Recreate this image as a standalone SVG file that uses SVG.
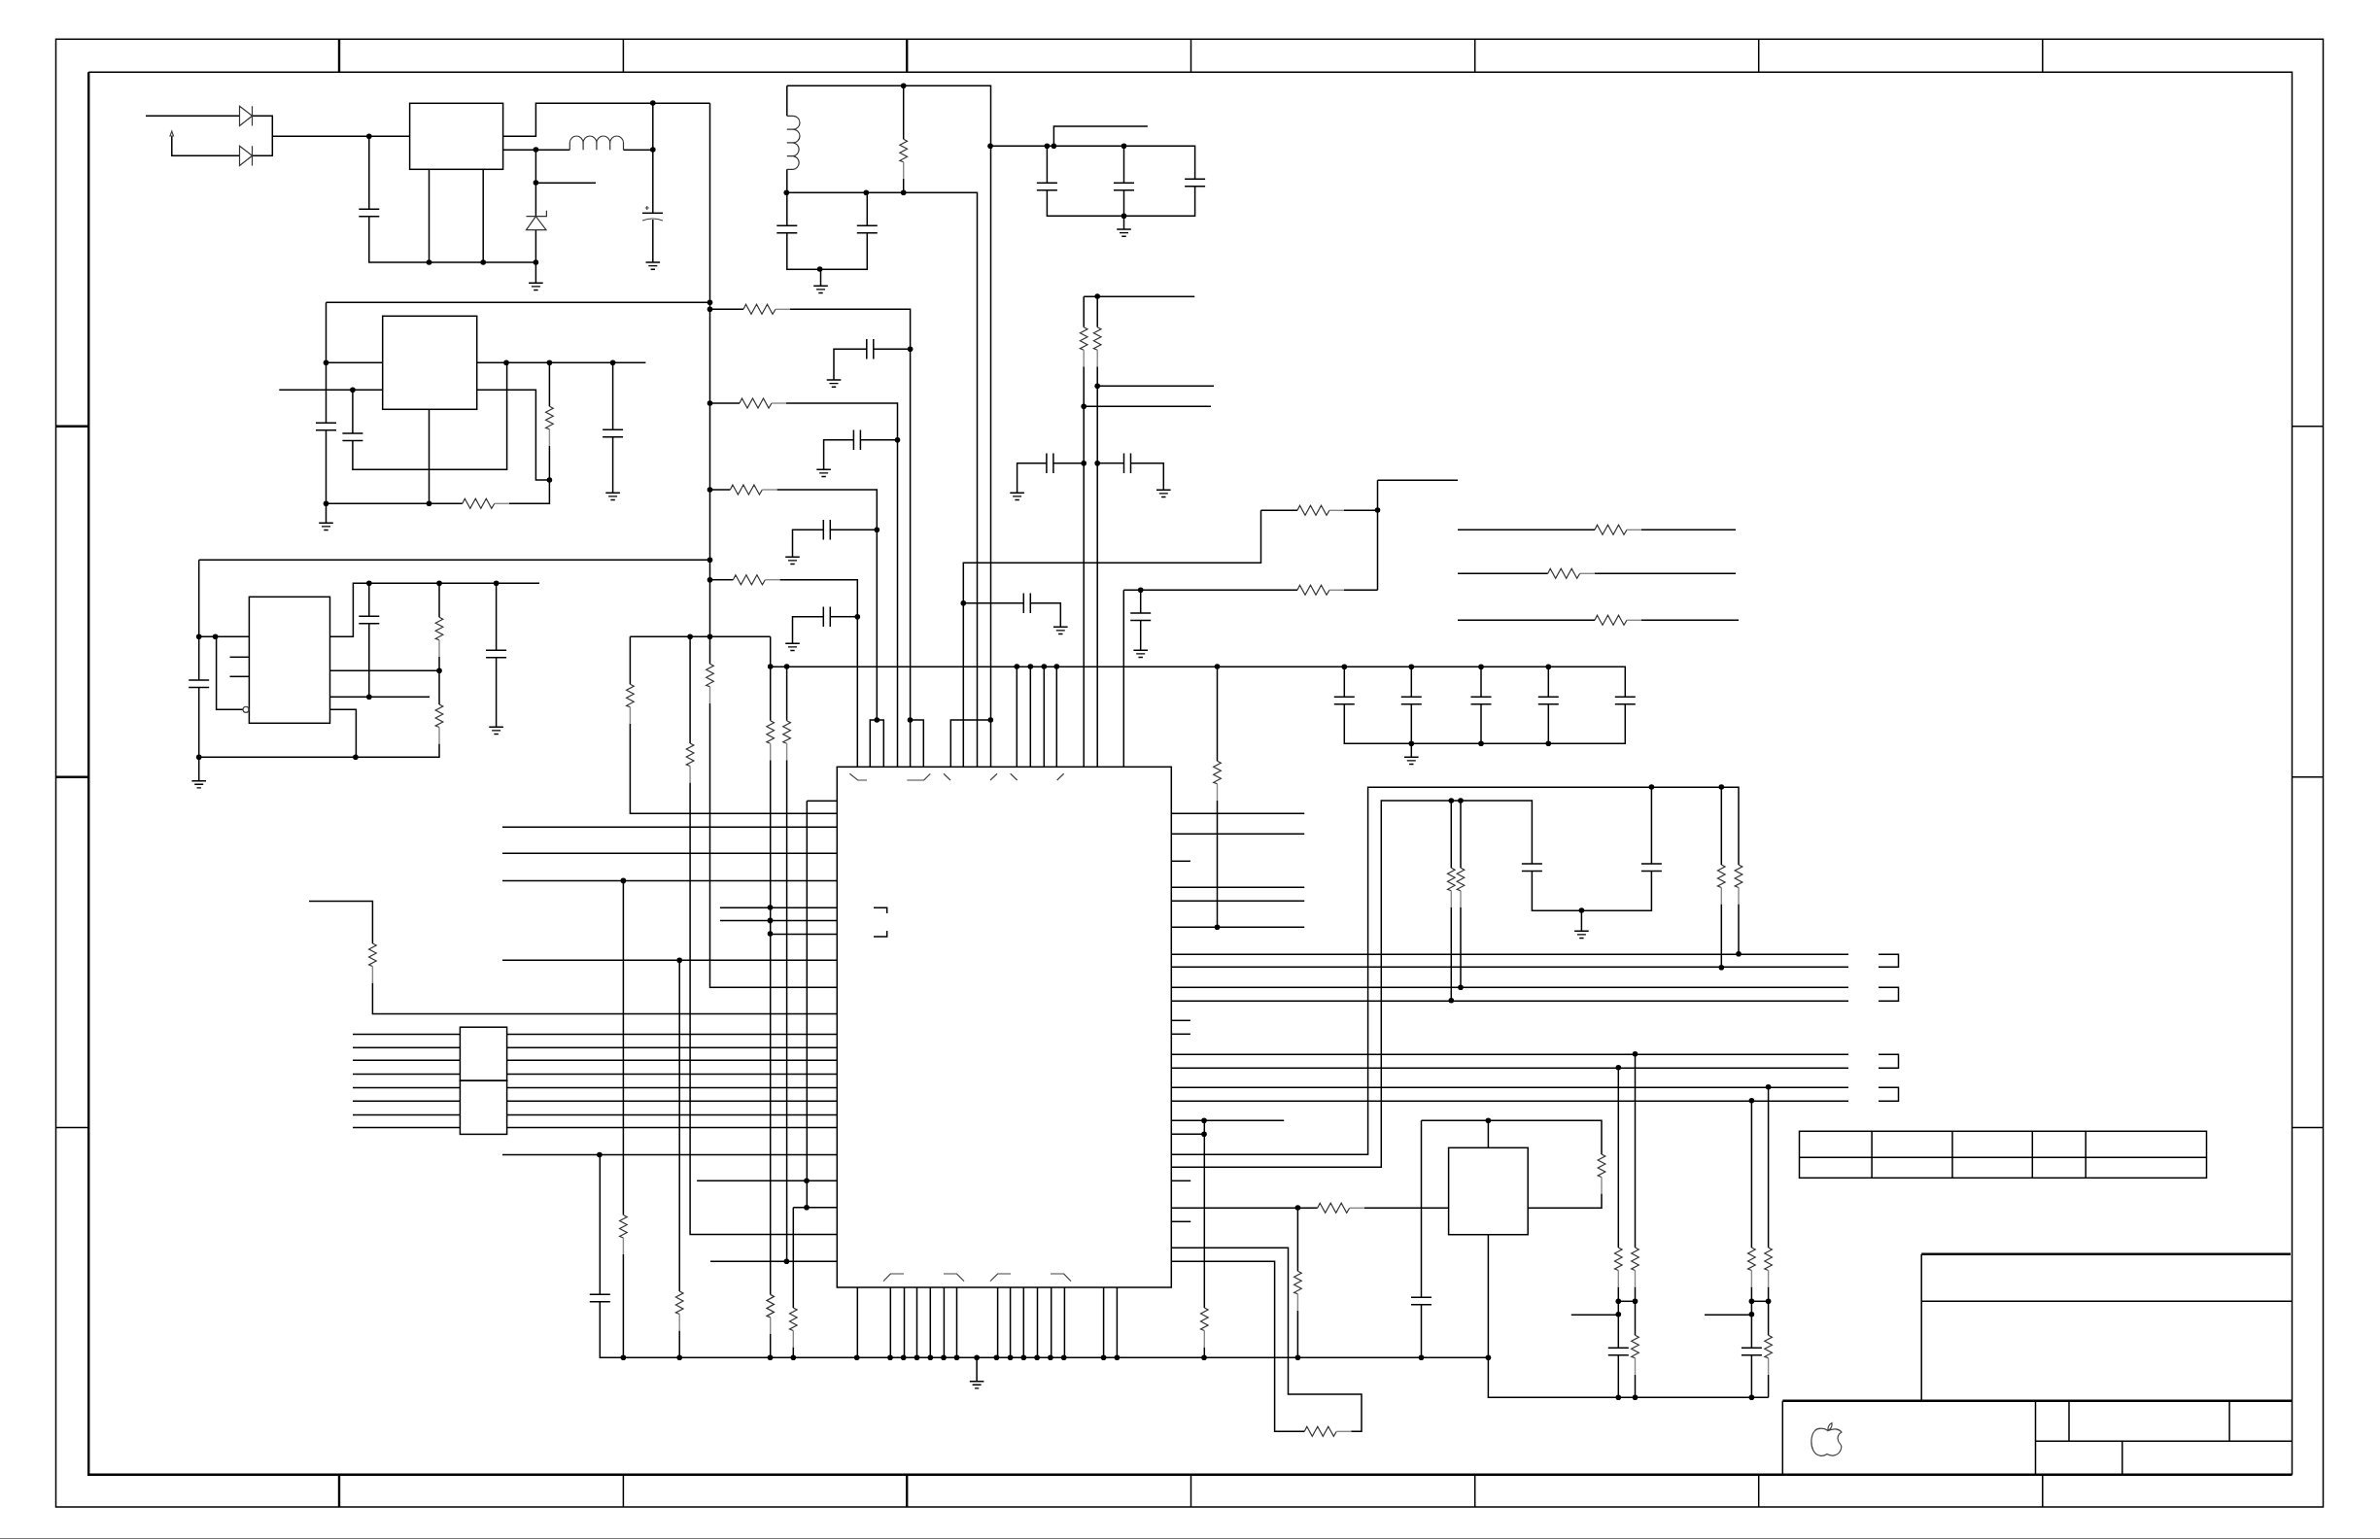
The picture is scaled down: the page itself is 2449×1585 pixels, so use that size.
<svg xmlns="http://www.w3.org/2000/svg" width="2449" height="1585" viewBox="0 0 2449 1585">
<style>
path,rect,circle,line{fill:none}
.w path{stroke:#000;stroke-width:1.5;stroke-linejoin:miter}
.b{stroke:#000;stroke-width:1.5;fill:#fff}
.n{stroke:#000;stroke-width:1.5}
.k{stroke:#000;stroke-width:2.4}
.z{stroke:#333;stroke-width:1.2}
.t{stroke:#888;stroke-width:1.4}
.p{stroke:#000;stroke-width:1.5}
.m{stroke:#444;stroke-width:1.2}
.g{stroke:#000;stroke-width:1.4}
</style>
<defs>
<g id="rh"><path class="z" d="M0,0L2.5,-5 8,5 13.5,-5 19,5 24.5,-5 30,5 33,0"/><path class="t" d="M33,0H48"/></g>
<g id="rv"><path class="z" d="M0,0L3.8,2 -3.8,6 3.8,10 -3.8,14 3.8,18 -3.8,22 0,23.5"/><path class="t" d="M0,23.5V40.5"/></g>
<path id="cv" class="p" d="M-10.5,0H10.5M-10.5,7.4H10.5"/>
<path id="ch" class="p" d="M0,-10.3V10.3M7,-10.3V10.3"/>
<path id="gnd" class="g" d="M-7.3,0H7.3M-4.5,3.6H4.5M-2.2,7.2H2.2"/>
<circle id="d" r="2.8" style="fill:#000"/>
</defs>
<g id="frame">
<rect class="n" x="57.5" y="40.3" width="2333" height="1510.7"/>
<path class="n" d="M91.2,74.3H2358.5V1517.7"/>
<path class="k" d="M91.2,74.3V1517.7H2358.5"/>
<path class="k" d="M349,40.3V74.3M933.2,40.3V74.3M349,1517.7V1551M933.2,1517.7V1551M57.5,438.7H91.2M57.5,799.7H91.2"/>
<path class="n" d="M641.4,40.3V74.3M1225.5,40.3V74.3M1517.7,40.3V74.3M1809.7,40.3V74.3M2101.8,40.3V74.3M641.4,1517.7V1551M1225.5,1517.7V1551M1517.7,1517.7V1551M1809.7,1517.7V1551M2101.8,1517.7V1551M57.5,1160.5H91.2M2358.5,438.7H2390.5M2358.5,799.7H2390.5M2358.5,1160.5H2390.5"/>
<path d="M0,1583.5H2449" stroke="#777" stroke-width="1"/>
</g>
<g id="connectors" class="w">
<path d="M150,119.3H246.5"/><path d="M259.5,119.3H280.3V160.3H259.5"/><path d="M176.8,140V160.3H246.5"/><path d="M280.3,140.3H421.6"/>
<path d="M379.8,140.3V215.3"/><path d="M379.8,222.7V270H551.4"/><path d="M441.5,174.3V270"/><path d="M497.2,174.3V270"/>
<path d="M517.6,140.3H551.4V106.3H730.5"/><path d="M517.6,154.3H586.3"/><path d="M641.5,154.3H671.8"/><path d="M671.8,106.3V219.3"/><path d="M671.8,226V270"/>
<path d="M551.4,154.3V222.7"/><path d="M551.4,188.3H613"/><path d="M551.4,236.7V291.3"/>
<path d="M730.5,106.3V683.3"/><path d="M730.5,723.8V1016.2H861.3"/>
<path d="M335.5,311.3H730.5"/><path d="M335.5,311.3V435.3"/><path d="M335.5,442.7V538.3"/><path d="M335.5,373.3H393.7"/><path d="M287.3,401.3H393.7"/>
<path d="M362.9,401.3V446"/><path d="M362.9,453.4V483.3H521.6V373.3"/><path d="M490.7,373.3H664.4"/><path d="M630.6,373.3V442.3"/><path d="M630.6,449.7V507.3"/>
<path d="M565.4,373.3V418.3"/><path d="M565.4,458.8V518.3H523.8"/><path d="M335.5,518.3H475.8"/><path d="M490.7,401.3H551.4V494H565.4"/><path d="M441.5,421.3V518.3"/>
<path d="M204.7,576.3H730.5"/><path d="M204.7,576.3V700"/><path d="M204.7,707.4V803.7"/><path d="M204.7,655.3H256.4"/><path d="M236.5,676.3H256.4"/><path d="M236.5,696.3H256.4"/><path d="M222.6,655.3V730.3H250"/>
<path d="M339.5,655.3H363.4V600.3H555"/><path d="M379.8,600.3V634.3"/><path d="M379.8,641.7V717.3"/><path d="M339.5,717.3H442"/><path d="M339.5,690.3H452"/>
<path d="M452,600.3V635.3"/><path d="M452,675.8V725"/><path d="M452,765.5V779.3H204.7"/><path d="M339.5,730.3H366.4V779.3"/><path d="M510.6,600.3V669.3"/><path d="M510.6,676.7V748.3"/>
<path d="M730.5,318.3H765"/><path d="M813,318.3H936.6V789.3"/><path d="M858,391V359.3H891.8"/><path d="M898.8,359.3H936.6"/>
<path d="M730.5,415H761"/><path d="M809,415H923.5V789.3"/><path d="M847.6,483.3V452.7H878.4"/><path d="M885.4,452.7H923.5"/>
<path d="M730.5,504H751.4"/><path d="M799.4,504H902.3V741"/><path d="M895.3,789.3V741H909.3V789.3"/><path d="M815.5,573.3V545.3H847.3"/><path d="M854.3,545.3H902.3"/>
<path d="M730.5,596.7H754.4"/><path d="M802.4,596.7H882.3V789.3"/><path d="M815.5,662.3V634.7H847.3"/><path d="M854.3,634.7H882.3"/>
<path d="M809.8,88.3V119.3"/><path d="M809.8,174.3V198.3"/><path d="M809.8,88.3H1019.5V789.3"/><path d="M929.7,88.3V143.3"/><path d="M929.7,183.8V198.3"/><path d="M809.8,198.3H1005.5V789.3"/>
<path d="M809.8,198.3V232.3"/><path d="M809.8,239.7V277.3H892.3V239.7"/><path d="M892.3,198.3V232.3"/><path d="M844.5,277.3V294.3"/>
<path d="M1019.5,150.3H1229.6V184.3"/><path d="M1229.6,191.7V222.3H1077.4V195.7"/><path d="M1077.4,150.3V188.3"/><path d="M1156.5,150.3V188.3"/><path d="M1156.5,195.7V236"/><path d="M1084.4,150.3V130H1180.9"/>
<path d="M1115.2,305.3H1229.2"/><path d="M1115.2,305.3V336.7"/><path d="M1115.2,377.2V789.3"/><path d="M1129.2,305.3V336.7"/><path d="M1129.2,377.2V789.3"/><path d="M1129.2,397.3H1249"/><path d="M1115.2,418.3H1246"/>
<path d="M1046.6,507.3V476.7H1076.9"/><path d="M1083.9,476.7H1115.2"/><path d="M1129.2,476.7H1156.5"/><path d="M1163.5,476.7H1197.3V504.3"/>
<path d="M1417.5,494.3H1500"/><path d="M1417.5,494.3V607.3"/><path d="M1383,525.3H1417.5"/><path d="M1383,607.3H1417.5"/><path d="M1297.5,525.3H1335"/><path d="M1297.5,525.3V579.3H991.3V789.3"/>
<path d="M1156.3,607.3H1335"/><path d="M1156.3,607.3V789.3"/><path d="M991.3,620.7H1053.3"/><path d="M1060.3,620.7H1091.3V645.3"/><path d="M1173.7,607.3V631"/><path d="M1173.7,638.4V669.3"/>
<path d="M936.5,741H950.3V789.3"/><path d="M978.3,789.3V741H1019.5"/><path d="M1046.3,686V789.3"/><path d="M1060.3,686V789.3"/><path d="M1074.3,686V789.3"/><path d="M1087.3,686V789.3"/>
<path d="M792.7,686.3H1672.3V717.3"/><path d="M1672.3,724.7V765.3H1383.3V724.7"/><path d="M1383.3,686.3V717.3"/><path d="M1452.3,686.3V717.3"/><path d="M1452.3,724.7V779.3"/><path d="M1524,686.3V717.3"/><path d="M1524,724.7V765.3"/><path d="M1593.3,686.3V717.3"/><path d="M1593.3,724.7V765.3"/>
<path d="M1252.5,686.3V783.3"/><path d="M1252.5,823.8V954.3"/>
<path d="M1500,545.3H1641"/><path d="M1689,545.3H1786"/><path d="M1500,590.3H1592.7"/><path d="M1640.7,590.3H1786"/><path d="M1500,638.3H1641"/><path d="M1689,638.3H1789"/>
<path d="M648.4,655.3H792.7"/><path d="M648.4,655.3V704.3"/><path d="M648.4,744.8V837.3H861.3"/><path d="M710.1,655.3V765"/><path d="M710.1,805.5V1270.4H861.3"/>
<path d="M792.7,655.3V741.7"/><path d="M792.7,782.2V1332.4"/><path d="M792.7,1372.9V1397.3"/><path d="M809.6,686.3V741.7"/><path d="M809.6,782.2V1298.3"/>
<path d="M830.3,824.3H861.3"/><path d="M830.3,824.3V1242.8"/><path d="M517,851.3H861.3"/><path d="M517,878.3H861.3"/><path d="M517,906.4H861.3"/><path d="M641.4,906.4V1250.5"/><path d="M641.4,1291V1397.3"/>
<path d="M517,988.3H861.3"/><path d="M699.2,988.3V1329"/><path d="M699.2,1369.5V1397.3"/><path d="M740.9,934.3H861.3"/><path d="M740.9,947.4H861.3"/><path d="M792.7,961.5H861.3"/>
<path d="M318,927.5H383.4V971"/><path d="M383.4,1011.5V1043.4H861.3"/>
<path d="M363,1064.5H473.4M521.6,1064.5H861.3"/><path d="M363,1078.2H473.4M521.6,1078.2H861.3"/><path d="M363,1091.2H473.4M521.6,1091.2H861.3"/><path d="M363,1105.4H473.4M521.6,1105.4H861.3"/><path d="M363,1119.6H473.4M521.6,1119.6H861.3"/><path d="M363,1133.3H473.4M521.6,1133.3H861.3"/><path d="M363,1147.5H473.4M521.6,1147.5H861.3"/><path d="M363,1160.5H473.4M521.6,1160.5H861.3"/>
<path d="M517,1188.5H861.3"/><path d="M617.3,1188.5V1332.3"/><path d="M617.3,1339.7V1397.3H1531.4"/><path d="M717.1,1215.2H861.3"/><path d="M816.3,1242.8H861.3"/><path d="M816.3,1242.8V1346"/><path d="M816.3,1386.5V1397.3"/><path d="M731,1298.3H861.3"/>
<path d="M882.3,1325V1397.3"/><path d="M916.3,1325V1397.3"/><path d="M930.5,1325V1397.3"/><path d="M943.5,1325V1397.3"/><path d="M957.3,1325V1397.3"/><path d="M971.4,1325V1397.3"/><path d="M984.5,1325V1397.3"/><path d="M1026.6,1325V1397.3"/><path d="M1039.6,1325V1397.3"/><path d="M1053.3,1325V1397.3"/><path d="M1067.5,1325V1397.3"/><path d="M1081.7,1325V1397.3"/><path d="M1095.4,1325V1397.3"/><path d="M1135.6,1325V1397.3"/><path d="M1149.4,1325V1397.3"/>
<path d="M1005.1,1397.3V1421.7"/>
<path d="M1205.3,837.3H1342.2"/><path d="M1205.3,858.3H1342.2"/><path d="M1205.3,886.3H1224.9"/><path d="M1205.3,913.3H1342.2"/><path d="M1205.3,927.3H1342.2"/><path d="M1205.3,954.3H1342.2"/>
<path d="M1205.3,982.3H1902"/><path d="M1205.3,995.3H1902"/><path d="M1205.3,1016.3H1902"/><path d="M1205.3,1030.3H1902"/><path d="M1205.3,1050.3H1224.9"/><path d="M1205.3,1064.3H1224.9"/><path d="M1205.3,1085.3H1902"/><path d="M1205.3,1099.3H1902"/><path d="M1205.3,1119.3H1902"/><path d="M1205.3,1133.3H1902"/>
<path d="M1933,982.3H1953.5V995.3H1933"/><path d="M1933,1016.3H1953.5V1030.3H1933"/><path d="M1933,1085.3H1953.5V1099.3H1933"/><path d="M1933,1119.3H1953.5V1133.3H1933"/>
<path d="M1205.3,1153.3H1321.2"/><path d="M1205.3,1167.3H1239.3"/><path d="M1239.3,1153.3V1346"/><path d="M1239.3,1386.5V1397.3"/>
<path d="M1205.3,1188.3H1407.6V810.3H1789V890"/><path d="M1205.3,1201.3H1421.3V824H1576.4V889"/><path d="M1205.3,1215.3H1225.2"/><path d="M1205.3,1257.3H1225.2"/>
<path d="M1205.3,1243.3H1355.7"/><path d="M1403.7,1243.3H1490.6"/><path d="M1335.4,1243.3V1308.3"/><path d="M1335.4,1348.8V1397.3"/>
<path d="M1205.3,1284.3H1325.5V1435H1401V1473.3H1390.3"/><path d="M1205.3,1298.3H1311.6V1473.3H1342.3"/>
<path d="M1493.3,824V893.3"/><path d="M1493.3,933.8V1030.3"/><path d="M1503,824V893.3"/><path d="M1503,933.8V1016.3"/>
<path d="M1576.4,896.4V937.3H1699.4V896.4"/><path d="M1699.4,810.3V889"/><path d="M1627.4,937.3V958.3"/><path d="M1771.3,810.3V890"/><path d="M1771.3,930.5V995.7"/><path d="M1789,930.5V981.7"/>
<path d="M1531.4,1153.3V1181.3"/><path d="M1462.5,1153.3H1648V1188"/><path d="M1648,1228.5V1243.3H1572.2"/><path d="M1462.5,1153.3V1335.3"/><path d="M1462.5,1342.7V1397.3"/><path d="M1531.4,1270.7V1438.3H1819.6"/>
<path d="M1665.3,1098.7V1284"/><path d="M1665.3,1324.5V1387.3"/><path d="M1665.3,1394.7V1438.3"/><path d="M1682.5,1084.7V1284"/><path d="M1682.5,1324.5V1374.3"/><path d="M1682.5,1414.8V1438.3"/><path d="M1665.3,1339.3H1682.5"/><path d="M1616.8,1353.3H1665.3"/>
<path d="M1802.4,1132.7V1284"/><path d="M1802.4,1324.5V1387.3"/><path d="M1802.4,1394.7V1438.3"/><path d="M1819.6,1118.7V1284"/><path d="M1819.6,1324.5V1374.3"/><path d="M1819.6,1414.8V1438.3"/><path d="M1802.4,1339.3H1819.6"/><path d="M1754,1353.3H1802.4"/>
</g>
<g id="junctions">
<use href="#d" x="379.8" y="140.3"/><use href="#d" x="441.5" y="270"/><use href="#d" x="497.2" y="270"/><use href="#d" x="551.4" y="270"/><use href="#d" x="671.8" y="106"/><use href="#d" x="551.4" y="154"/><use href="#d" x="671.8" y="154"/><use href="#d" x="551.4" y="188"/>
<use href="#d" x="730.5" y="311.3"/><use href="#d" x="730.5" y="318.3"/><use href="#d" x="730.5" y="415"/><use href="#d" x="730.5" y="504"/><use href="#d" x="730.5" y="576.3"/><use href="#d" x="730.5" y="596.7"/><use href="#d" x="730.5" y="655.3"/><use href="#d" x="710.1" y="655.3"/>
<use href="#d" x="335.5" y="373.3"/><use href="#d" x="362.9" y="401.3"/><use href="#d" x="521" y="373.3"/><use href="#d" x="565.4" y="373.3"/><use href="#d" x="630.6" y="373.3"/><use href="#d" x="565.4" y="494"/><use href="#d" x="441.5" y="518.3"/><use href="#d" x="335.5" y="518.3"/>
<use href="#d" x="204.7" y="655.3"/><use href="#d" x="221.6" y="655.3"/><use href="#d" x="379.8" y="600.3"/><use href="#d" x="452" y="600.3"/><use href="#d" x="510.6" y="600.3"/><use href="#d" x="379.8" y="717.3"/><use href="#d" x="452" y="690.3"/><use href="#d" x="204.7" y="779.3"/><use href="#d" x="365.9" y="779.3"/><use href="#d" x="792.7" y="686"/><use href="#d" x="809.6" y="686"/>
<use href="#d" x="929.7" y="88.3"/><use href="#d" x="809.3" y="198.3"/><use href="#d" x="891.3" y="198.3"/><use href="#d" x="929.7" y="198.3"/><use href="#d" x="843.6" y="277"/><use href="#d" x="1019" y="150.3"/><use href="#d" x="1077.4" y="150.3"/><use href="#d" x="1084.4" y="150.3"/><use href="#d" x="1156.5" y="150.3"/><use href="#d" x="1156.5" y="222.3"/>
<use href="#d" x="1129.2" y="305"/><use href="#d" x="1129.2" y="397.3"/><use href="#d" x="1115.2" y="418.3"/><use href="#d" x="1115.2" y="476.7"/><use href="#d" x="1129.2" y="476.7"/><use href="#d" x="936.6" y="359.3"/><use href="#d" x="923.5" y="452.7"/><use href="#d" x="902.3" y="545.3"/><use href="#d" x="882.3" y="634.7"/><use href="#d" x="902.3" y="741"/><use href="#d" x="936.5" y="741"/><use href="#d" x="1019.3" y="741"/><use href="#d" x="991.3" y="620.7"/><use href="#d" x="1173.7" y="607.3"/><use href="#d" x="1417.5" y="525"/>
<use href="#d" x="1046.3" y="686"/><use href="#d" x="1060.3" y="686"/><use href="#d" x="1074.3" y="686"/><use href="#d" x="1087.3" y="686"/><use href="#d" x="1252.5" y="686"/><use href="#d" x="1383.3" y="686.3"/><use href="#d" x="1452.3" y="686.3"/><use href="#d" x="1524" y="686.3"/><use href="#d" x="1593.3" y="686.3"/><use href="#d" x="1452.3" y="765.3"/><use href="#d" x="1524" y="765.3"/><use href="#d" x="1593.3" y="765.3"/>
<use href="#d" x="1252.5" y="954.3"/><use href="#d" x="1493.3" y="824"/><use href="#d" x="1503" y="824"/><use href="#d" x="1699.4" y="810"/><use href="#d" x="1771.3" y="810"/><use href="#d" x="1627.4" y="937"/><use href="#d" x="1789" y="981.7"/><use href="#d" x="1771.3" y="995.7"/><use href="#d" x="1503" y="1016.3"/><use href="#d" x="1493.3" y="1029.7"/><use href="#d" x="1682.5" y="1084.7"/><use href="#d" x="1665.3" y="1098.7"/><use href="#d" x="1819.6" y="1118.7"/><use href="#d" x="1802.4" y="1132.7"/>
<use href="#d" x="1239" y="1153.3"/><use href="#d" x="1239" y="1167.3"/><use href="#d" x="1335.4" y="1243"/><use href="#d" x="1531.4" y="1153.3"/><use href="#d" x="1462.5" y="1397.3"/><use href="#d" x="1531.4" y="1397.3"/><use href="#d" x="1665.3" y="1438.3"/><use href="#d" x="1682.5" y="1438.3"/><use href="#d" x="1802.4" y="1438.3"/><use href="#d" x="1665.3" y="1339.3"/><use href="#d" x="1682.5" y="1339.3"/><use href="#d" x="1802.4" y="1339.3"/><use href="#d" x="1819.6" y="1339.3"/><use href="#d" x="1665.3" y="1352.7"/><use href="#d" x="1802.4" y="1352.7"/>
<use href="#d" x="641.4" y="906.4"/><use href="#d" x="699.2" y="988.3"/><use href="#d" x="792.5" y="934"/><use href="#d" x="792.5" y="947.4"/><use href="#d" x="792.5" y="961"/><use href="#d" x="616.9" y="1188.5"/><use href="#d" x="830" y="1215.2"/><use href="#d" x="830" y="1242.8"/><use href="#d" x="809.4" y="1298.3"/>
<use href="#d" x="641.4" y="1397.3"/><use href="#d" x="699.2" y="1397.3"/><use href="#d" x="792.5" y="1397.3"/><use href="#d" x="816.3" y="1397.3"/><use href="#d" x="881.7" y="1397.3"/><use href="#d" x="916" y="1397.3"/><use href="#d" x="929.7" y="1397.3"/><use href="#d" x="943.5" y="1397.3"/><use href="#d" x="957.3" y="1397.3"/><use href="#d" x="971" y="1397.3"/><use href="#d" x="984.5" y="1397.3"/><use href="#d" x="1005.1" y="1397.3"/><use href="#d" x="1025.4" y="1397.3"/><use href="#d" x="1039.6" y="1397.3"/><use href="#d" x="1053.3" y="1397.3"/><use href="#d" x="1067.1" y="1397.3"/><use href="#d" x="1080.9" y="1397.3"/><use href="#d" x="1094.7" y="1397.3"/><use href="#d" x="1135.6" y="1397.3"/><use href="#d" x="1149.4" y="1397.3"/><use href="#d" x="1239" y="1397.3"/><use href="#d" x="1335.4" y="1397.3"/>
</g>
<g id="U1"><rect class="b" x="421.6" y="106.3" width="96" height="68"/></g>
<g id="U2"><rect class="b" x="393.7" y="325.3" width="97" height="96"/></g>
<g id="U3"><rect class="b" x="256.4" y="614.3" width="83.1" height="130"/><circle cx="253" cy="730.3" r="3" stroke="#444" stroke-width="1.2"/></g>
<g id="U4"><rect class="n" x="861.3" y="789.3" width="344" height="535.7"/><path class="m" d="M874.3,796.3L882.7,803H892M933.3,803H950.7L957.3,796.3M971,796.3L978,803M1019,803L1026,796.3M1039.7,796.3L1046.7,803M1087.7,803L1094.7,796.3M909,1318.7L916.3,1311H930M971,1311H984.5L992,1318.7M1019,1318.7L1026.6,1311H1040M1081,1311H1094.7L1102,1318.7"/><path class="n" d="M899,934.3H912.7V940M899,964H912.7V958"/></g>
<g id="U5"><rect class="b" x="473.4" y="1057.2" width="48.2" height="55.1"/></g>
<g id="U6"><rect class="b" x="473.4" y="1112.3" width="48.2" height="55.1"/></g>
<g id="U7"><rect class="b" x="1490.6" y="1181.3" width="81.6" height="89.4"/></g>
<g id="D1"><path class="z" d="M259.5,119.3L246.5,109.3V129.5ZM259.5,109.3V129.5"/></g>
<g id="D2"><path class="z" d="M259.5,160.3L246.5,150.3V170.5ZM259.5,150.3V170.5"/></g>
<g id="D3"><path class="z" d="M551.4,222.7L541.5,236.7H562ZM541.5,222.7H562.4V216.7"/></g>
<g id="J1"><path class="m" d="M175,140L176.8,135L178.5,140Z"/></g>
<g id="L1"><path class="z" d="M586.3,154.3V147A6.9,7 0 0 1 600.1,147V154.3M600.1,147A6.9,7 0 0 1 613.9,147V154.3M613.9,147A6.9,7 0 0 1 627.7,147V154.3M627.7,147A6.9,7 0 0 1 641.5,147V154.3"/></g>
<g id="L2"><path class="z" d="M809.8,119.3H816A7,6.9 0 0 1 816,133.1H809.8M816,133.1A7,6.9 0 0 1 816,146.9H809.8M816,146.9A7,6.9 0 0 1 816,160.6H809.8M816,160.6A7,6.9 0 0 1 816,174.3H809.8"/></g>
<g id="C1"><path class="p" d="M661,219.3H682"/><path class="m" d="M665.8,212V216M663.8,214H667.8M661,227Q671.8,223 682,227"/></g>
<g id="R1"><use href="#rh" x="765" y="318.3"/></g><g id="R2"><use href="#rh" x="761" y="415"/></g><g id="R3"><use href="#rh" x="751.4" y="504"/></g><g id="R4"><use href="#rh" x="754.4" y="596.7"/></g><g id="R5"><use href="#rh" x="475.8" y="518.3"/></g><g id="R6"><use href="#rh" x="1335" y="525.3"/></g><g id="R7"><use href="#rh" x="1335" y="607.3"/></g><g id="R8"><use href="#rh" x="1641" y="545.3"/></g><g id="R9"><use href="#rh" x="1592.7" y="590.3"/></g><g id="R10"><use href="#rh" x="1641" y="638.3"/></g><g id="R11"><use href="#rh" x="1355.7" y="1243.3"/></g><g id="R12"><use href="#rh" x="1342.3" y="1473.3"/></g>
<g id="R13"><use href="#rv" x="929.7" y="143.3"/></g><g id="R14"><use href="#rv" x="565.4" y="418.3"/></g><g id="R15"><use href="#rv" x="452" y="635.3"/></g><g id="R16"><use href="#rv" x="452" y="725"/></g><g id="R17"><use href="#rv" x="648.4" y="704.3"/></g><g id="R18"><use href="#rv" x="710.1" y="765"/></g><g id="R19"><use href="#rv" x="730.5" y="683.3"/></g><g id="R20"><use href="#rv" x="792.7" y="741.7"/></g><g id="R21"><use href="#rv" x="809.6" y="741.7"/></g><g id="R22"><use href="#rv" x="1115.2" y="336.7"/></g><g id="R23"><use href="#rv" x="1129.2" y="336.7"/></g><g id="R24"><use href="#rv" x="1252.5" y="783.3"/></g><g id="R25"><use href="#rv" x="383.4" y="971"/></g><g id="R26"><use href="#rv" x="641.4" y="1250.5"/></g><g id="R27"><use href="#rv" x="699.2" y="1329"/></g><g id="R28"><use href="#rv" x="792.7" y="1332.4"/></g><g id="R29"><use href="#rv" x="816.3" y="1346"/></g><g id="R30"><use href="#rv" x="1239.3" y="1346"/></g><g id="R31"><use href="#rv" x="1335.4" y="1308.3"/></g><g id="R32"><use href="#rv" x="1493.3" y="893.3"/></g><g id="R33"><use href="#rv" x="1503" y="893.3"/></g><g id="R34"><use href="#rv" x="1771.3" y="890"/></g><g id="R35"><use href="#rv" x="1789" y="890"/></g><g id="R36"><use href="#rv" x="1648" y="1188"/></g><g id="R37"><use href="#rv" x="1665.3" y="1284"/></g><g id="R38"><use href="#rv" x="1682.5" y="1284"/></g><g id="R39"><use href="#rv" x="1682.5" y="1374.3"/></g><g id="R40"><use href="#rv" x="1802.4" y="1284"/></g><g id="R41"><use href="#rv" x="1819.6" y="1284"/></g><g id="R42"><use href="#rv" x="1819.6" y="1374.3"/></g>
<g id="C2"><use href="#cv" x="379.8" y="215.3"/></g><g id="C3"><use href="#cv" x="335.5" y="435.3"/></g><g id="C4"><use href="#cv" x="362.9" y="446"/></g><g id="C5"><use href="#cv" x="630.6" y="442.3"/></g><g id="C6"><use href="#cv" x="204.7" y="700"/></g><g id="C7"><use href="#cv" x="379.8" y="634.3"/></g><g id="C8"><use href="#cv" x="510.6" y="669.3"/></g><g id="C9"><use href="#cv" x="809.8" y="232.3"/></g><g id="C10"><use href="#cv" x="892.3" y="232.3"/></g><g id="C11"><use href="#cv" x="1077.4" y="188.3"/></g><g id="C12"><use href="#cv" x="1156.5" y="188.3"/></g><g id="C13"><use href="#cv" x="1229.6" y="184.3"/></g><g id="C14"><use href="#cv" x="1173.7" y="631"/></g><g id="C15"><use href="#cv" x="1383.3" y="717.3"/></g><g id="C16"><use href="#cv" x="1452.3" y="717.3"/></g><g id="C17"><use href="#cv" x="1524" y="717.3"/></g><g id="C18"><use href="#cv" x="1593.3" y="717.3"/></g><g id="C19"><use href="#cv" x="1672.3" y="717.3"/></g><g id="C20"><use href="#cv" x="1576.4" y="889"/></g><g id="C21"><use href="#cv" x="1699.4" y="889"/></g><g id="C22"><use href="#cv" x="617.3" y="1332.3"/></g><g id="C23"><use href="#cv" x="1462.5" y="1335.3"/></g><g id="C24"><use href="#cv" x="1665.3" y="1387.3"/></g><g id="C25"><use href="#cv" x="1802.4" y="1387.3"/></g>
<g id="C26"><use href="#ch" x="891.8" y="359.3"/></g><g id="C27"><use href="#ch" x="878.4" y="452.7"/></g><g id="C28"><use href="#ch" x="847.3" y="545.3"/></g><g id="C29"><use href="#ch" x="847.3" y="634.7"/></g><g id="C30"><use href="#ch" x="1053.3" y="620.7"/></g><g id="C31"><use href="#ch" x="1076.9" y="476.7"/></g><g id="C32"><use href="#ch" x="1156.5" y="476.7"/></g>
<g id="grounds"><use href="#gnd" x="551.4" y="291.3"/><use href="#gnd" x="671.8" y="270"/><use href="#gnd" x="335.5" y="538.3"/><use href="#gnd" x="630.6" y="507.3"/><use href="#gnd" x="204.7" y="803.7"/><use href="#gnd" x="510.6" y="748.3"/><use href="#gnd" x="844.5" y="294.3"/><use href="#gnd" x="1156.5" y="236"/><use href="#gnd" x="858" y="391"/><use href="#gnd" x="847.6" y="483.3"/><use href="#gnd" x="815.5" y="573.3"/><use href="#gnd" x="815.5" y="662.3"/><use href="#gnd" x="1046.6" y="507.3"/><use href="#gnd" x="1197.3" y="504.3"/><use href="#gnd" x="1091.3" y="645.3"/><use href="#gnd" x="1173.7" y="669.3"/><use href="#gnd" x="1452.3" y="779.3"/><use href="#gnd" x="1627.4" y="958.3"/><use href="#gnd" x="1005.1" y="1421.7"/></g>
<g id="revision-table"><rect class="n" x="1851.5" y="1164.3" width="419" height="48"/><path class="n" d="M1851.5,1191.3H2270.5M1926.1,1164.3V1212.3M2009,1164.3V1212.3M2091.3,1164.3V1212.3M2146.2,1164.3V1212.3"/></g>
<g id="title-block"><path class="k" d="M1977.2,1290.7H2357M1834.3,1441.7H2358.5"/><path class="n" d="M1977.2,1290.7V1441.7M1977.2,1339.3H2358.5M1834.3,1441.7V1517.7M2094.5,1441.7V1517.7M2129,1441.7V1483.3M2294.1,1441.7V1483.3M2094.5,1483.3H2358.5M2183.8,1483.3V1517.7"/><path class="m" d="M1881,1472.5C1877,1469.5 1870,1469 1867,1473C1863,1478 1863,1488 1866,1493C1869,1499 1876,1499.5 1880,1496.5C1884,1499 1891,1499 1894,1492.5C1896,1488 1894,1487 1892,1484C1890,1480 1891,1476 1895,1474C1892,1470 1886,1470 1881,1472.5ZM1881,1472.5C1880.5,1468 1883,1465.5 1885,1464.5C1885.5,1468 1883.5,1471 1881,1472.5Z"/></g>
</svg>
